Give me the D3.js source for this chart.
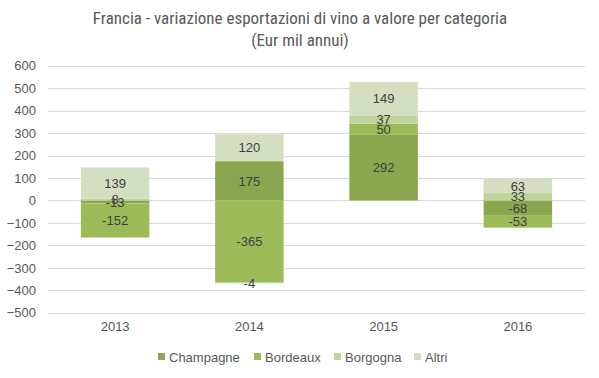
<!DOCTYPE html>
<html><head><meta charset="utf-8">
<script src="https://cdn.jsdelivr.net/npm/d3@7"></script>
<style>body{margin:0;background:#fff}svg{display:block}</style>
</head><body>
<script>
const years = ["2013","2014","2015","2016"];
const seriesNames = ["Champagne","Bordeaux","Borgogna","Altri"];
const champagne = [-13, 175, 292, -68];
const bordeaux = [-152, -365, 50, -53];
const borgogna = [8, -4, 37, 33];
const altri = [139, 120, 149, 63];
const yTicks = [600,500,400,300,200,100,0,-100,-200,-300,-400,-500];
const colors = ["#8aa64f","#9bbb59","#bfd39a","#d3dfc0"];

const W=599,H=378;
const FONT="'Liberation Sans', Arial, sans-serif";
const svg=d3.select("body").append("svg").attr("width",W).attr("height",H);
const rows = years.map((y,i)=>({year:y,Champagne:champagne[i],Bordeaux:bordeaux[i],Borgogna:borgogna[i],Altri:altri[i]}));
const stack = d3.stack().keys(seriesNames).offset(d3.stackOffsetDiverging)(rows);

const x=d3.scaleBand().domain(years).range([48,585]).paddingInner(0.49).paddingOuter(0.245);
const y=d3.scaleLinear().domain([-500,600]).range([312.8,65.7]);

svg.append("g").selectAll("line").data(yTicks).join("line")
 .attr("x1",48).attr("x2",585).attr("y1",d=>Math.round(y(d))+0.5).attr("y2",d=>Math.round(y(d))+0.5)
 .attr("stroke","#d9d9d9").attr("stroke-width",1);

const yAxis=d3.axisLeft(y).tickValues(yTicks).tickSize(0).tickPadding(0);
const ga=svg.append("g").attr("transform","translate(36,0)").call(yAxis);
ga.select(".domain").remove();
ga.selectAll("text").attr("font-family",FONT).attr("font-size",13).attr("fill","#595959");

const g=svg.append("g");
stack.forEach((s,si)=>{
  g.append("g").attr("fill",colors[si]).selectAll("rect").data(s).join("rect")
   .attr("x",d=>x(d.data.year)).attr("width",x.bandwidth())
   .attr("y",d=>y(Math.max(d[0],d[1]))).attr("height",d=>Math.abs(y(d[0])-y(d[1])));
});
stack.forEach((s,si)=>{
  g.append("g").selectAll("text").data(s).join("text")
   .attr("x",d=>x(d.data.year)+x.bandwidth()/2)
   .attr("y",d=>y((d[0]+d[1])/2))
   .attr("dy","0.36em").attr("text-anchor","middle")
   .attr("font-family",FONT).attr("font-size",13).attr("fill","#404040")
   .text(d=>d.data[s.key]);
});

const xAxis=d3.axisBottom(x).tickSize(0).tickPadding(0);
const gx=svg.append("g").attr("transform","translate(0,322)").call(xAxis);
gx.select(".domain").remove();
gx.selectAll("text").attr("font-family",FONT).attr("font-size",13).attr("fill","#595959");

const t=svg.append("text").attr("text-anchor","middle").attr("font-family","'Liberation Sans Narrow','Roboto Condensed','DejaVu Sans Condensed',sans-serif").attr("font-size",17).attr("fill","#595959");
t.append("tspan").attr("x",300).attr("y",24).text("Francia - variazione esportazioni di vino a valore per categoria");
t.append("tspan").attr("x",300).attr("y",46).text("(Eur mil annui)");

const legX=[158,254,334,414];
const lg=svg.append("g").selectAll("g").data(seriesNames).join("g").attr("transform",(d,i)=>`translate(${legX[i]},353)`);
lg.append("rect").attr("width",7).attr("height",7).attr("fill",(d,i)=>colors[i]);
lg.append("text").attr("x",11).attr("y",4).attr("dy","0.36em").attr("font-family",FONT).attr("font-size",13).attr("fill","#595959").text(d=>d);
</script>
</body></html>
